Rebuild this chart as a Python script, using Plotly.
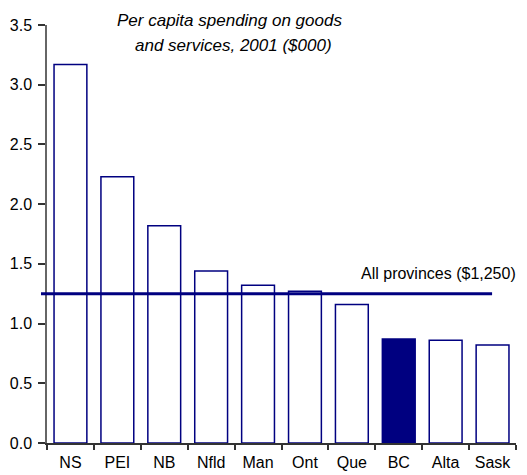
import plotly.graph_objects as go

provinces = ["NS", "PEI", "NB", "Nfld", "Man", "Ont", "Que", "BC", "Alta", "Sask"]
spending = [3.17, 2.23, 1.82, 1.44, 1.32, 1.27, 1.16, 0.87, 0.86, 0.82]
highlight = "BC"
all_provinces = 1.25
y_ticks = [0.0, 0.5, 1.0, 1.5, 2.0, 2.5, 3.0, 3.5]
title_lines = ["Per capita spending on goods", "and services, 2001 ($000)"]
line_label = "All provinces ($1,250)"

NAVY = "#000080"
fills = [NAVY if p == highlight else "white" for p in provinces]

fig = go.Figure()
fig.add_trace(go.Bar(
    x=provinces, y=spending,
    marker=dict(color=fills, line=dict(color=NAVY, width=1.5)),
    width=0.7,
    showlegend=False,
))

fig.add_shape(type="line", xref="paper", yref="y",
              x0=-0.0128, x1=0.949, y0=all_provinces, y1=all_provinces,
              line=dict(color=NAVY, width=3), layer="above")

font = "Liberation Sans, Arial, sans-serif"
fig.add_annotation(xref="paper", yref="y", x=1.005, y=1.42, xanchor="right", yanchor="middle",
                   text=line_label, showarrow=False, font=dict(family=font, size=16, color="black"))
fig.add_annotation(xref="paper", yref="paper", x=(230-48)/468, y=1.0 + 5/418, xanchor="center", yanchor="middle",
                   text=f"<i>{title_lines[0]}</i>", showarrow=False, font=dict(family=font, size=17, color="black"))
fig.add_annotation(xref="paper", yref="paper", x=(234-48)/468, y=1.0 - 20/418, xanchor="center", yanchor="middle",
                   text=f"<i>{title_lines[1]}</i>", showarrow=False, font=dict(family=font, size=17, color="black"))

fig.update_layout(
    width=527, height=475,
    margin=dict(l=47, r=11, t=25, b=32),
    paper_bgcolor="white", plot_bgcolor="white",
    font=dict(family=font, size=16, color="black"),
    xaxis=dict(
        type="category", range=[-0.5, 9.5],
        showline=True, linecolor="#333", linewidth=1.5,
        ticks="outside", tickson="boundaries", ticklen=5, tickcolor="#333", tickwidth=1.5,
        showgrid=False, zeroline=False,
        tickfont=dict(size=16), tickangle=0, automargin=False,
        ticklabelstandoff=4,
    ),
    yaxis=dict(
        range=[0, 3.5], tickvals=y_ticks, ticktext=[f"{v:.1f}" for v in y_ticks],
        showline=True, linecolor="#666", linewidth=1.5,
        ticks="outside", ticklen=7, tickcolor="#333", tickwidth=1.5,
        showgrid=False, zeroline=False, automargin=False,
        tickfont=dict(size=16),
        ticklabelstandoff=3,
    ),
    bargap=0.3,
)

fig.write_html("out.html")
